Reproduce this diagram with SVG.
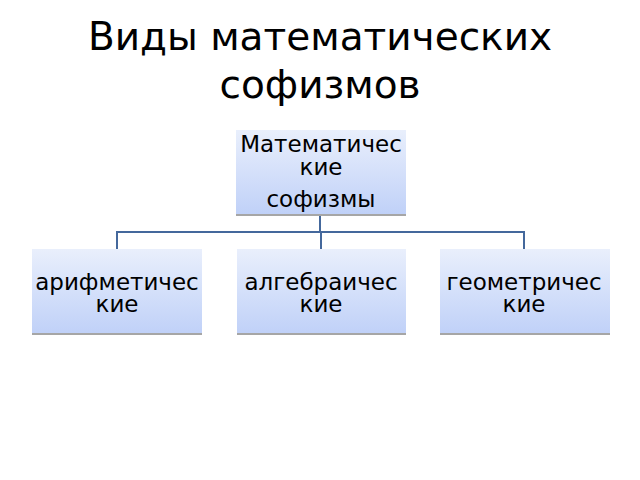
<svg xmlns="http://www.w3.org/2000/svg" width="640" height="480" viewBox="0 0 640 480">
<style>
text{font-family:"DejaVu Sans","Noto Sans",sans-serif;fill:#000}
.t{font-size:39px}
.n{font-size:23px}
.box{fill:url(#g)}
.sh{fill:#a6a6a6}
.c{stroke:#44689c;stroke-width:2;fill:none}
</style>
<defs>
<linearGradient id="g" x1="0" y1="0" x2="0" y2="1">
<stop offset="0" stop-color="#e9effc"/>
<stop offset="1" stop-color="#c0d1f8"/>
</linearGradient>
</defs>
<rect width="640" height="480" fill="#fff"/>
<text class="t" x="320" y="50" text-anchor="middle">Виды математических</text>
<text class="t" x="320" y="98" text-anchor="middle">софизмов</text>
<g id="connectors">
<path class="c" d="M320,216V232M117,249V232H524V249M321,232V249"/>
</g>
<g id="root">
<rect class="sh" x="236" y="213" width="170" height="3"/>
<rect class="box" x="236" y="130" width="170" height="84"/>
<text class="n" x="321" y="152" text-anchor="middle">Математичес</text>
<text class="n" x="321" y="175" text-anchor="middle">кие</text>
<text class="n" x="321" y="207" text-anchor="middle">софизмы</text>
</g>
<g id="arith">
<rect class="sh" x="32" y="332" width="170" height="3"/>
<rect class="box" x="32" y="249" width="170" height="84"/>
<text class="n" x="117" y="290" text-anchor="middle">арифметичес</text>
<text class="n" x="117" y="312" text-anchor="middle">кие</text>
</g>
<g id="alg">
<rect class="sh" x="237" y="332" width="169" height="3"/>
<rect class="box" x="237" y="249" width="169" height="84"/>
<text class="n" x="321" y="290" text-anchor="middle">алгебраичес</text>
<text class="n" x="321" y="312" text-anchor="middle">кие</text>
</g>
<g id="geom">
<rect class="sh" x="440" y="332" width="170" height="3"/>
<rect class="box" x="440" y="249" width="170" height="84"/>
<text class="n" x="524" y="290" text-anchor="middle">геометричес</text>
<text class="n" x="524" y="312" text-anchor="middle">кие</text>
</g>
</svg>
